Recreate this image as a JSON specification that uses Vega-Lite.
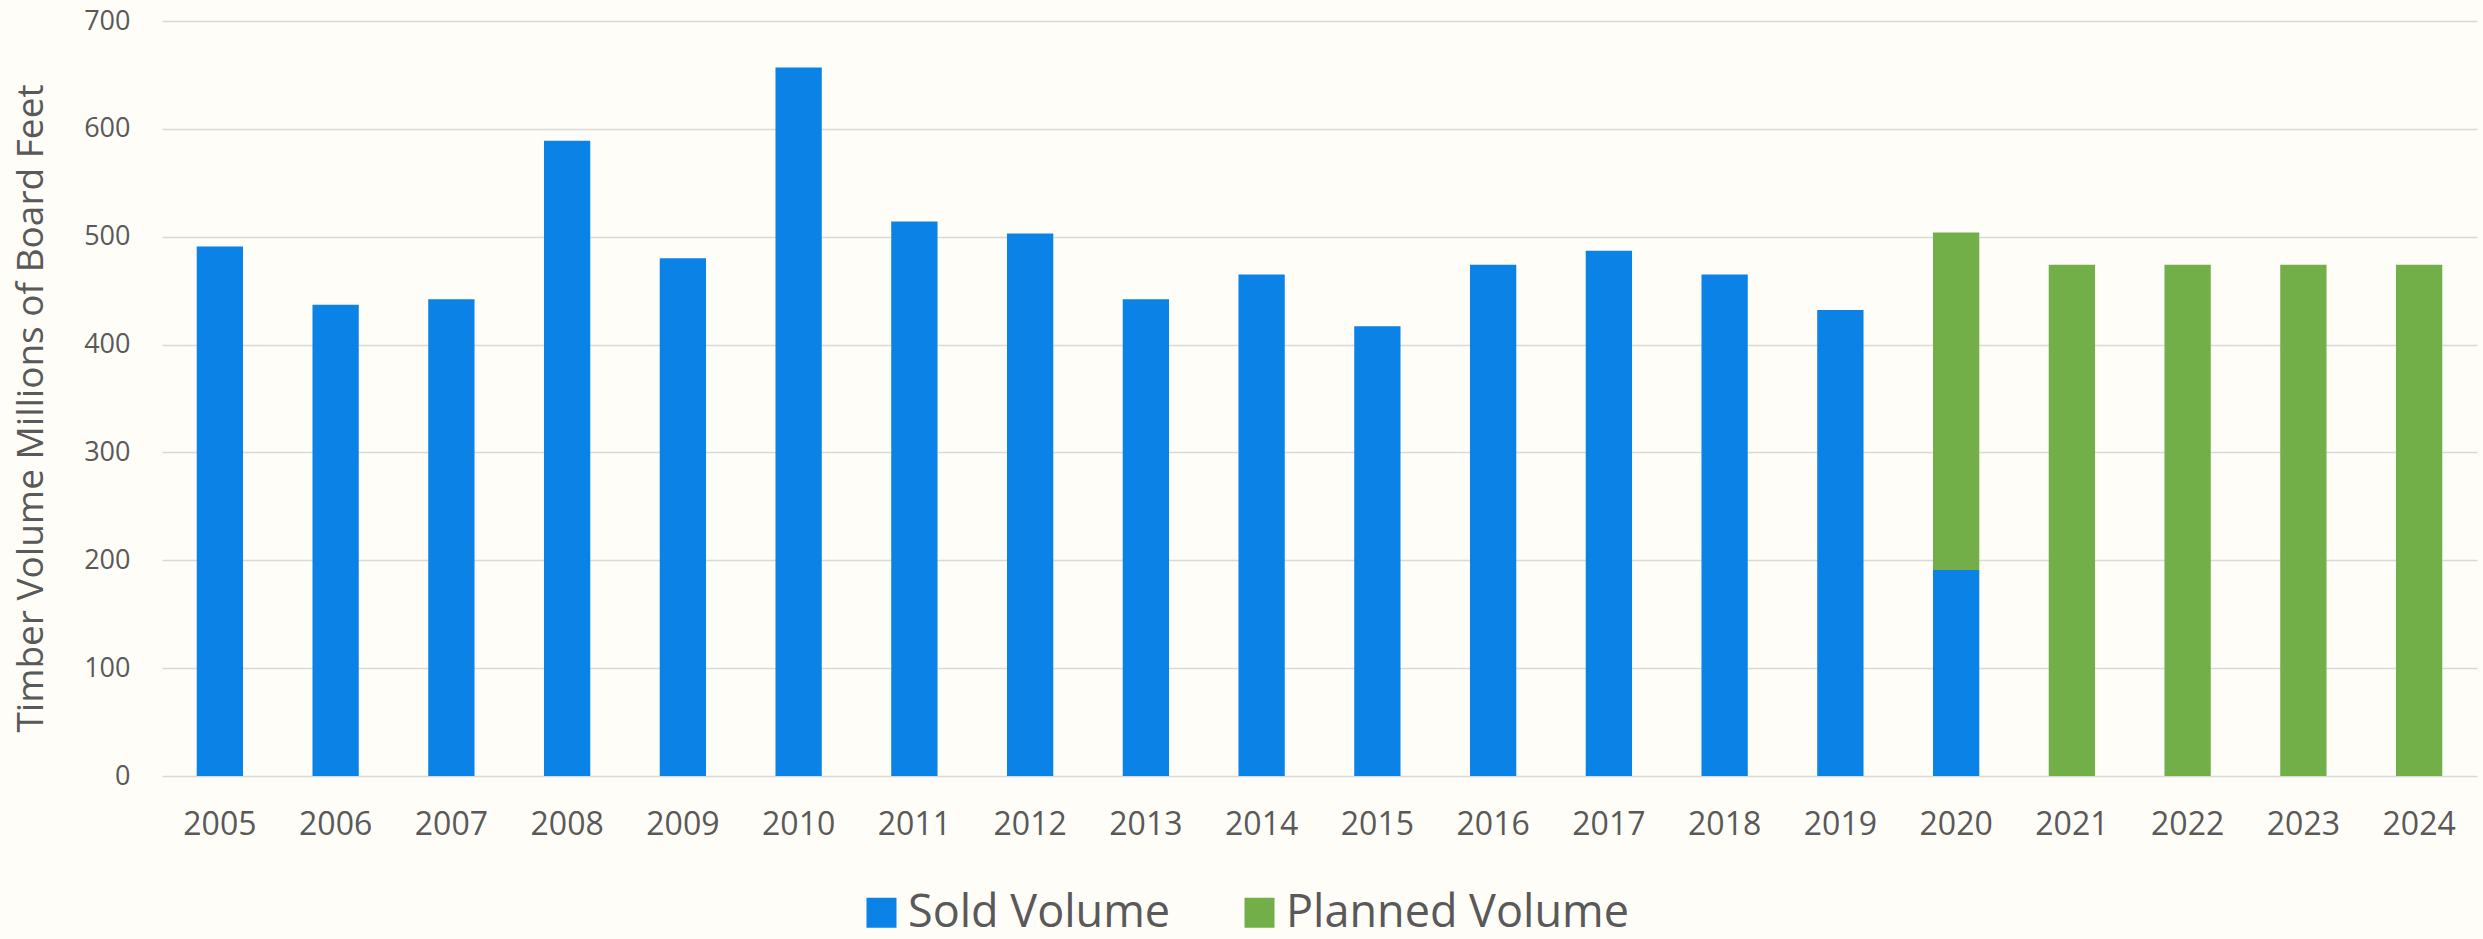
{
  "$schema": "https://vega.github.io/schema/vega-lite/v6.json",
  "width": 2315,
  "height": 755,
  "autosize": "none",
  "padding": {"left": 162, "top": 21, "right": 6, "bottom": 163},
  "background": "#fffdf8",
  "config": {"view": {"stroke": null}, "font": "Open Sans"},
  "data": {
    "values": [
      {"year": "2005", "type": "Sold Volume", "volume": 491},
      {"year": "2006", "type": "Sold Volume", "volume": 437},
      {"year": "2007", "type": "Sold Volume", "volume": 442},
      {"year": "2008", "type": "Sold Volume", "volume": 589},
      {"year": "2009", "type": "Sold Volume", "volume": 480},
      {"year": "2010", "type": "Sold Volume", "volume": 657},
      {"year": "2011", "type": "Sold Volume", "volume": 514},
      {"year": "2012", "type": "Sold Volume", "volume": 503},
      {"year": "2013", "type": "Sold Volume", "volume": 442},
      {"year": "2014", "type": "Sold Volume", "volume": 465},
      {"year": "2015", "type": "Sold Volume", "volume": 417},
      {"year": "2016", "type": "Sold Volume", "volume": 474},
      {"year": "2017", "type": "Sold Volume", "volume": 487},
      {"year": "2018", "type": "Sold Volume", "volume": 465},
      {"year": "2019", "type": "Sold Volume", "volume": 432},
      {"year": "2020", "type": "Sold Volume", "volume": 191},
      {"year": "2020", "type": "Planned Volume", "volume": 313},
      {"year": "2021", "type": "Planned Volume", "volume": 474},
      {"year": "2022", "type": "Planned Volume", "volume": 474},
      {"year": "2023", "type": "Planned Volume", "volume": 474},
      {"year": "2024", "type": "Planned Volume", "volume": 474}
    ]
  },
  "mark": {"type": "bar"},
  "encoding": {
    "x": {
      "field": "year",
      "type": "ordinal",
      "scale": {"paddingInner": 0.6, "paddingOuter": 0.3},
      "axis": {
        "title": null,
        "labelAngle": 0,
        "domain": false,
        "ticks": false,
        "labelFontSize": 32,
        "labelColor": "#595959",
        "labelPadding": 58,
        "labelBaseline": "alphabetic"
      }
    },
    "y": {
      "field": "volume",
      "type": "quantitative",
      "stack": "zero",
      "scale": {"domain": [0, 700], "nice": false},
      "axis": {
        "values": [0, 100, 200, 300, 400, 500, 600, 700],
        "domain": false,
        "ticks": false,
        "grid": true,
        "gridColor": "#d9d9d9",
        "gridWidth": 1.5,
        "labelFontSize": 27,
        "labelColor": "#595959",
        "labelPadding": 32,
        "title": "Timber Volume Millions of Board Feet",
        "titleFontSize": 37,
        "titleFontWeight": "normal",
        "titleColor": "#595959",
        "titleAngle": -90,
        "titleX": -131,
        "titleY": 387,
        "titleAlign": "center",
        "titleBaseline": "middle"
      }
    },
    "color": {
      "field": "type",
      "type": "nominal",
      "scale": {"domain": ["Sold Volume", "Planned Volume"], "range": ["#0b83e6", "#73af48"]},
      "legend": {
        "orient": "none",
        "legendX": 697,
        "legendY": 869,
        "direction": "horizontal",
        "title": null,
        "symbolType": "square",
        "symbolSize": 900,
        "symbolStrokeWidth": 0,
        "symbolOpacity": 1,
        "labelFontSize": 45,
        "labelColor": "#595959",
        "labelOffset": 4,
        "labelLimit": 1000,
        "columnPadding": 66,
        "padding": 0
      }
    },
    "order": {"field": "type", "sort": "descending"}
  }
}
